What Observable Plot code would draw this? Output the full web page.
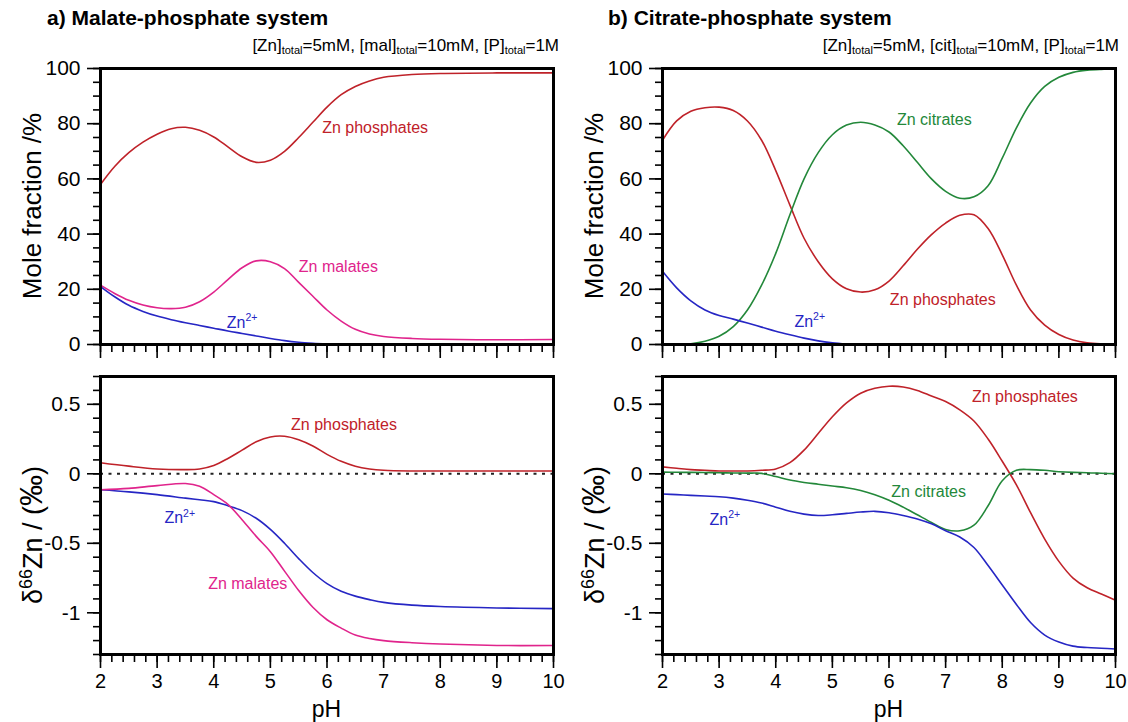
<!DOCTYPE html>
<html><head><meta charset="utf-8">
<script src="https://cdn.jsdelivr.net/npm/d3@7"></script>
<script src="https://cdn.jsdelivr.net/npm/@observablehq/plot@0.6"></script>
<style>
body{margin:0;background:#fff;font-family:"Liberation Sans",Arial,sans-serif;}
#wrap{position:relative;width:1128px;height:722px;overflow:hidden;background:#fff;}
.title{position:absolute;font-weight:bold;font-size:21px;top:6px;white-space:nowrap;}
.sub{position:absolute;font-size:17px;top:36px;white-space:nowrap;text-align:right;}
.sub sub{font-size:11px;vertical-align:-3px;}
.panel{position:absolute;}
.panel svg{background:transparent !important;}
</style></head><body>
<div id="wrap">
  <div class="panel" id="pa1" style="left:0px;top:58px"></div>
  <div class="panel" id="pa2" style="left:0px;top:366px"></div>
  <div class="panel" id="pb1" style="left:562px;top:58px"></div>
  <div class="panel" id="pb2" style="left:562px;top:366px"></div>
  <div class="title" style="left:47px">a) Malate-phosphate system</div>
  <div class="title" style="left:608px">b) Citrate-phosphate system</div>
  <div class="sub" style="right:569px">[Zn]<sub>total</sub>=5mM, [mal]<sub>total</sub>=10mM, [P]<sub>total</sub>=1M</div>
  <div class="sub" style="right:9px">[Zn]<sub>total</sub>=5mM, [cit]<sub>total</sub>=10mM, [P]<sub>total</sub>=1M</div>
</div>
<script>
// ---------- data ----------
const xMajor = [2, 3, 4, 5, 6, 7, 8, 9, 10];
const yMajorFrac = [0, 20, 40, 60, 80, 100];
const yMajorDelta = [-1, -0.5, 0, 0.5];

const colors = {phos: "#bf2229", mal: "#e0248c", zn: "#2626c4", cit: "#23883a"};

// a) top: mole fraction, malate-phosphate
const pH_a1 = [2,2.25,2.5,2.75,3,3.25,3.5,3.75,4,4.25,4.5,4.75,5,5.25,5.5,5.75,6,6.25,6.5,6.75,7,7.5,8,9,10];
const a1_phos = [58,64.5,69.5,73.3,76.2,78.2,78.7,77.6,75.2,71.6,68,66,66.8,70,75,80.5,86,90.5,93.5,95.5,96.8,97.8,98.2,98.4,98.4];
const a1_mal  = [21.5,18.5,16,14.3,13.3,13,13.5,15.5,19,23.5,27.8,30.3,30,27.5,22.5,17.5,12.5,8.5,5.5,3.8,2.9,2.2,1.9,1.7,1.8];
const pH_a1_zn = [2,2.25,2.5,2.75,3,3.25,3.5,3.75,4,4.25,4.5,4.75,5,5.25,5.5,5.75,6];
const a1_zn   = [21,17.3,14.2,12,10.3,9,7.9,6.9,5.9,4.9,4,3.1,2.2,1.4,0.8,0.4,0.1];
const a1_labels = [
  {x: 6.85, y: 78.5, t: "Zn phosphates", c: colors.phos},
  {x: 6.2,  y: 28.3, t: "Zn malates",    c: colors.mal},
  {x: 4.5,  y: 8,    t: "Zn2+",          c: colors.zn}
];

// a) bottom: delta66Zn, malate-phosphate
const pH_a2 = [2,2.5,3,3.5,3.75,4,4.25,4.5,4.75,5,5.25,5.5,5.75,6,6.25,6.5,6.75,7,7.5,8,9,10];
const a2_phos = [0.08,0.055,0.035,0.03,0.035,0.06,0.11,0.17,0.23,0.265,0.27,0.245,0.2,0.14,0.09,0.055,0.035,0.025,0.02,0.02,0.02,0.02];
const a2_mal  = [-0.115,-0.105,-0.085,-0.07,-0.09,-0.15,-0.22,-0.33,-0.45,-0.56,-0.7,-0.84,-0.96,-1.05,-1.11,-1.16,-1.185,-1.2,-1.215,-1.225,-1.235,-1.235];
const a2_zn   = [-0.115,-0.13,-0.15,-0.175,-0.187,-0.2,-0.23,-0.265,-0.32,-0.4,-0.5,-0.61,-0.71,-0.79,-0.845,-0.88,-0.905,-0.925,-0.945,-0.955,-0.965,-0.97];
const a2_labels = [
  {x: 6.3,  y: 0.35,  t: "Zn phosphates", c: colors.phos},
  {x: 3.4,  y: -0.32, t: "Zn2+",          c: colors.zn},
  {x: 4.6,  y: -0.79, t: "Zn malates",    c: colors.mal}
];

// b) top: mole fraction, citrate-phosphate
const pH_b = [2,2.25,2.5,2.75,3,3.25,3.5,3.75,4,4.25,4.5,4.75,5,5.25,5.5,5.75,6,6.25,6.5,6.75,7,7.25,7.5,7.75,8,8.25,8.5,8.75,9,9.25,9.5,9.75,10];
const b1_phos = [74,81,84.5,85.8,86,84.8,81,74,63,50.5,38.5,30,23.8,20.2,19,19.8,23,28.5,34.5,39.8,44,46.8,47,42,32.5,21.5,12.5,7,3.6,1.6,0.6,0.2,0.05];
const b1_cit  = [0,0,0.3,1.2,3,6.5,12.5,21.5,33,47,60,69.5,76,79.5,80.5,79.5,77,72,66,60,55.5,53,53.5,57.5,67.5,78.5,87.5,93.5,96.8,98.6,99.4,99.7,99.8];
const pH_b1_zn = [2,2.25,2.5,2.75,3,3.25,3.5,3.75,4,4.25,4.5,4.75,5,5.25];
const b1_zn   = [26.5,20.5,15.8,12.5,10.5,9.2,7.8,6.3,4.8,3.5,2.3,1.3,0.6,0.1];
const b1_labels = [
  {x: 6.8,  y: 81.5, t: "Zn citrates",   c: colors.cit},
  {x: 6.95, y: 16,   t: "Zn phosphates", c: colors.phos},
  {x: 4.6,  y: 8.3,  t: "Zn2+",          c: colors.zn}
];

// b) bottom: delta66Zn, citrate-phosphate
const b2_phos = [0.05,0.04,0.03,0.025,0.02,0.02,0.02,0.025,0.035,0.08,0.17,0.29,0.41,0.51,0.58,0.615,0.63,0.625,0.6,0.56,0.52,0.46,0.38,0.25,0.09,-0.08,-0.28,-0.47,-0.63,-0.75,-0.82,-0.865,-0.91];
const b2_cit  = [0.012,0.011,0.01,0.009,0.008,0.006,0.005,0.003,-0.02,-0.045,-0.062,-0.075,-0.088,-0.1,-0.12,-0.15,-0.19,-0.24,-0.295,-0.35,-0.4,-0.41,-0.37,-0.23,-0.05,0.025,0.03,0.025,0.015,0.01,0.008,0.004,0];
const b2_zn   = [-0.145,-0.15,-0.155,-0.16,-0.165,-0.175,-0.19,-0.21,-0.24,-0.27,-0.29,-0.3,-0.295,-0.285,-0.275,-0.27,-0.28,-0.3,-0.325,-0.36,-0.41,-0.455,-0.53,-0.66,-0.8,-0.94,-1.07,-1.16,-1.21,-1.24,-1.25,-1.255,-1.26];
const b2_labels = [
  {x: 8.4,  y: 0.55,  t: "Zn phosphates", c: colors.phos},
  {x: 6.7,  y: -0.13, t: "Zn citrates",   c: colors.cit},
  {x: 3.1,  y: -0.33, t: "Zn2+",          c: colors.zn}
];

// ---------- drawing ----------
const FONT = '"Liberation Sans", Arial, Helvetica, sans-serif';
const rows = (xs, ys) => xs.map((x, i) => ({x, y: ys[i]}));

function panel({el, top, yDomain, yMajor, yMinorStep, series, labels, zero, ylabel, xlabels}) {
  const mt = 10, ml = 100, mr = 13, plotH = top ? 276 : 278;
  const mb = top ? 20 : 68;
  const W = 566, H = mt + plotH + mb;
  const xMinor = d3.range(20, 101, 2).map(d => d / 10);
  const yMinor = d3.range(Math.round(yDomain[0] / yMinorStep), Math.round(yDomain[1] / yMinorStep) + 1).map(k => +(k * yMinorStep).toFixed(4));
  const marks = [
    Plot.axisX({ticks: xMajor, tickSize: 14, tickPadding: 5, strokeWidth: 1.6, label: null,
      fontSize: 20, tickFormat: xlabels ? (d => String(d)) : (() => "")}),
    Plot.axisX({ticks: xMinor, tickSize: 8, strokeWidth: 1.6, label: null, tickFormat: () => ""}),
    Plot.axisY({ticks: yMajor, tickSize: 13, tickPadding: 7, strokeWidth: 1.6, label: null,
      fontSize: 21, tickFormat: d => String(d)}),
    Plot.axisY({ticks: yMinor, tickSize: 7, strokeWidth: 1.6, label: null, tickFormat: () => ""})
  ];
  if (zero) marks.push(Plot.ruleY([0], {stroke: "#222", strokeWidth: 2, strokeDasharray: "3,5.5"}));
  for (const s of series) {
    marks.push(Plot.line(rows(s.x, s.y), {x: "x", y: "y", stroke: s.c, strokeWidth: 1.6, curve: "catmull-rom"}));
  }
  marks.push(Plot.text(labels, {x: "x", y: "y", text: "t", fill: "c", fontSize: 16, textAnchor: "middle", lineAnchor: "middle"}));
  marks.push(Plot.frame({stroke: "black", strokeWidth: 3}));
  const svg = Plot.plot({
    width: W, height: H, marginTop: mt, marginBottom: mb, marginLeft: ml, marginRight: mr,
    x: {domain: [2, 10], label: null},
    y: {domain: yDomain, label: null},
    color: {type: "identity"},
    style: {fontFamily: FONT, color: "black", background: "transparent", overflow: "visible"},
    marks
  });
  const s = d3.select(svg);
  // superscript for Zn2+
  s.selectAll("text").filter(function() { return this.textContent === "Zn2+"; }).each(function() {
    const t = d3.select(this);
    t.text("Zn");
    t.append("tspan").attr("font-size", 10.5).attr("dy", "-0.65em").text("2+");
  });
  // y axis title
  const cy = mt + plotH / 2;
  const yl = s.append("text")
    .attr("text-anchor", "middle")
    .attr("font-family", FONT)
    .attr("fill", "black");
  if (ylabel === "frac") {
    yl.attr("transform", `translate(${ml - 59},${cy}) rotate(-90)`).attr("font-size", 26);
    yl.text("Mole fraction /%");
  } else {
    yl.attr("transform", `translate(${ml - 58},${cy + 20}) rotate(-90)`).attr("font-size", 27);
    yl.append("tspan").text("δ");
    yl.append("tspan").attr("font-size", 18).attr("dy", "-0.55em").text("66");
    yl.append("tspan").attr("dy", "0.37em").text("Zn / (");
    yl.append("tspan").attr("font-size", 31).text("‰");
    yl.append("tspan").text(")");
  }
  if (xlabels) {
    s.append("text")
      .attr("x", ml + (W - ml - mr) / 2).attr("y", H - 5)
      .attr("text-anchor", "middle")
      .attr("font-family", FONT).attr("font-size", 23).attr("fill", "black")
      .text("pH");
  }
  document.getElementById(el).appendChild(svg);
}

panel({el: "pa1", top: true, yDomain: [0, 100], yMajor: yMajorFrac, yMinorStep: 5, ylabel: "frac", xlabels: false,
  series: [{x: pH_a1, y: a1_phos, c: colors.phos}, {x: pH_a1, y: a1_mal, c: colors.mal}, {x: pH_a1_zn, y: a1_zn, c: colors.zn}],
  labels: a1_labels});
panel({el: "pa2", top: false, yDomain: [-1.3, 0.7], yMajor: yMajorDelta, yMinorStep: 0.1, ylabel: "delta", xlabels: true, zero: true,
  series: [{x: pH_a2, y: a2_phos, c: colors.phos}, {x: pH_a2, y: a2_zn, c: colors.zn}, {x: pH_a2, y: a2_mal, c: colors.mal}],
  labels: a2_labels});
panel({el: "pb1", top: true, yDomain: [0, 100], yMajor: yMajorFrac, yMinorStep: 5, ylabel: "frac", xlabels: false,
  series: [{x: pH_b, y: b1_phos, c: colors.phos}, {x: pH_b, y: b1_cit, c: colors.cit}, {x: pH_b1_zn, y: b1_zn, c: colors.zn}],
  labels: b1_labels});
panel({el: "pb2", top: false, yDomain: [-1.3, 0.7], yMajor: yMajorDelta, yMinorStep: 0.1, ylabel: "delta", xlabels: true, zero: true,
  series: [{x: pH_b, y: b2_phos, c: colors.phos}, {x: pH_b, y: b2_cit, c: colors.cit}, {x: pH_b, y: b2_zn, c: colors.zn}],
  labels: b2_labels});
</script>
</body></html>
